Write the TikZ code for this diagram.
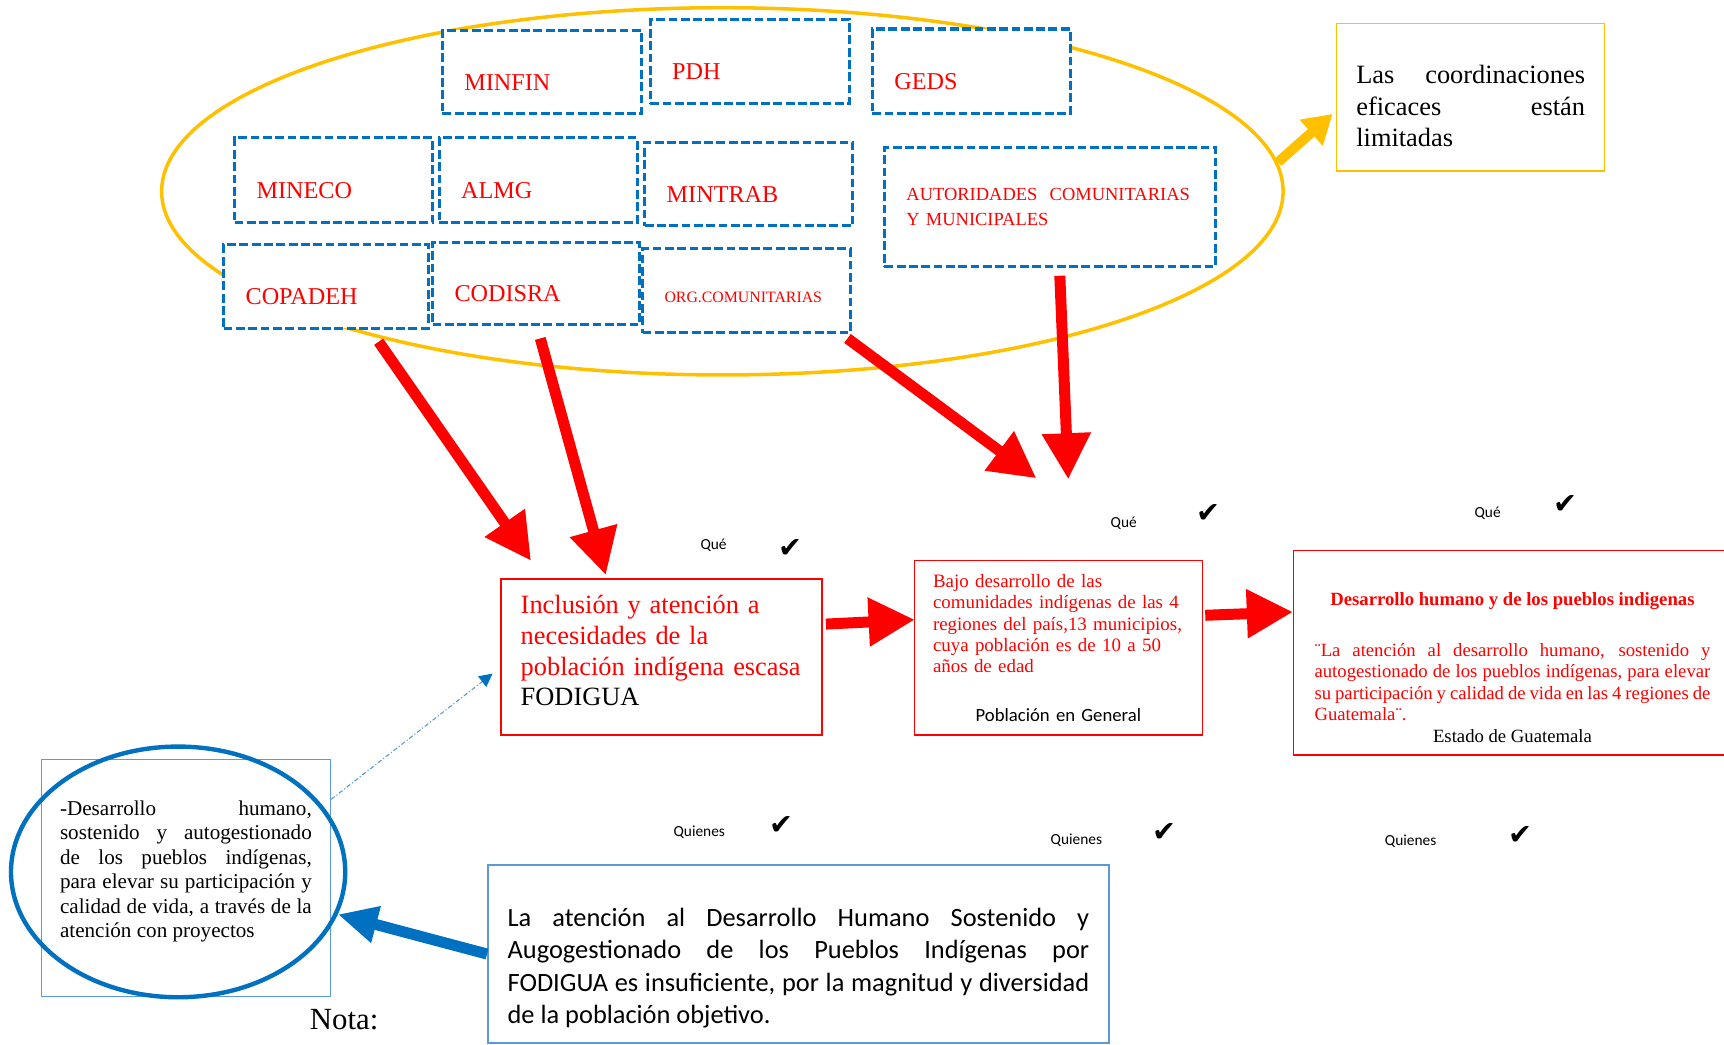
\documentclass[tikz,border=0pt]{standalone}
\usepackage{fontspec}
\setmainfont{Liberation Serif}
\newfontfamily\calibri{Carlito}
\newfontfamily\tickfont{DejaVu Sans}
\usepackage{tikz}
\usetikzlibrary{arrows.meta,shapes.geometric}
\definecolor{orgblue}{HTML}{0070C0}
\definecolor{lineblue}{HTML}{5B9BD5}
\definecolor{gold}{HTML}{FFC000}
\hyphenpenalty=10000 \exhyphenpenalty=10000 \tolerance=10000 \hbadness=10000

\begin{document}
\begin{tikzpicture}[x=0.5pt, y=-0.5pt]
    % Define styles
    \tikzstyle{orgbox} = [rectangle, draw=orgblue, fill=white, line width=1.4pt, dash pattern=on 4pt off 1.6pt, anchor=north west, inner xsep=10pt, inner ysep=0pt, align=left, text=red, font=\fontsize{11}{13}\selectfont]
    \tikzstyle{orglow} = [orgbox, text height=16.5pt, text depth=0pt]
    \tikzstyle{redbox} = [rectangle, draw=red, line width=0.6pt, anchor=north west, inner xsep=9pt, inner ysep=2pt, text=red]
    \tikzstyle{bluebox} = [rectangle, draw=lineblue, line width=0.7pt, anchor=north west, inner ysep=2pt, align=justify]
    \tikzstyle{tag} = [font=\calibri\fontsize{7}{8}\selectfont]
    \tikzstyle{checkmk} = [font=\tickfont\fontsize{13}{14}\selectfont]
    \tikzstyle{redarrow} = [draw=red, line width=5pt, -{Triangle[length=21pt,width=21pt]}]
    \tikzstyle{goldarrow} = [draw=gold, line width=4.5pt, -{Triangle[length=13pt,width=15pt]}]
    \tikzstyle{bluearrow} = [draw=orgblue, line width=5pt, -{Triangle[length=18pt,width=16pt]}]
    \tikzstyle{linkarrow} = [draw=lineblue, line width=0.5pt, dash pattern=on 2pt off 1pt on 0.5pt off 1pt, -{Triangle[length=6pt,width=6pt,color=orgblue]}]

    \useasboundingbox (0,0) rectangle (1568,950);

    % Institutions
    \node (grupo) [ellipse, draw=gold, line width=1.6pt, minimum width=510pt, minimum height=167pt, inner sep=0pt] at (657,174) {};
    \node (minfin) [orglow, text width=70.5pt, minimum height=38pt] at (401,26) {MINFIN};
    \node (pdh) [orglow, text width=70.5pt, minimum height=38.5pt] at (590,16) {PDH};
    \node (geds) [orglow, text width=70pt, minimum height=38.5pt] at (792,25) {GEDS};
    \node (mineco) [orglow, text width=70pt, minimum height=38.5pt] at (212,124) {MINECO};
    \node (almg) [orglow, text width=70pt, minimum height=38.5pt] at (398,124) {ALMG};
    \node (mintrab) [orglow, text width=74.5pt, minimum height=38pt] at (585,128) {MINTRAB};
    \node (autoridades) [orgbox, text width=130.5pt, minimum height=54pt, font=\fontsize{8.4}{11.5}\selectfont] at (803,133) {AUTORIDADES\ \ COMUNITARIAS\\ Y MUNICIPALES};
    \node (copadeh) [orglow, text width=73pt, minimum height=38pt] at (202,221) {COPADEH};
    \node (codisra) [orglow, text width=74pt, minimum height=37.5pt] at (392,219) {CODISRA};
    \node (orgcom) [orgbox, text width=74.5pt, minimum height=38pt, font=\fontsize{7.2}{8.5}\selectfont, text height=10.8pt, text depth=0pt] at (583,225) {ORG.COMUNITARIAS};

    \node (coord) [rectangle, draw=gold, line width=0.6pt, anchor=north west, minimum width=122pt, minimum height=67pt, text width=104pt, inner xsep=9pt, inner ysep=2pt, align=justify, font=\fontsize{12}{14.25}\selectfont] at (1215,21) {\rule{0pt}{16.1pt}Las coordinaciones\linebreak eficaces están\linebreak limitadas};

    % Problem tree
    \node (inclusion) [redbox, minimum width=146pt, minimum height=71pt, text width=128pt, align=left, font=\fontsize{12}{14}\selectfont] at (455,526) {Inclusión y atención a\\ necesidades de la\\ población indígena escasa\\ \textcolor{black}{FODIGUA}\rule[-6pt]{0pt}{6pt}};
    \node (bajo) [redbox, minimum width=131pt, minimum height=79.5pt, text width=114pt, inner xsep=8.5pt, align=left, font=\fontsize{8.6}{9.75}\selectfont] at (831,509) {Bajo desarrollo de las\\ comunidades indígenas de las 4\\ regiones del país,13 municipios,\\ cuya población es de 10 a 50\\ años de edad\par\vspace{12.25pt}{\centering\calibri\fontsize{8.5}{9.75}\selectfont\color{black}Población en General\par}};
    \node (desarrollo) [redbox, minimum width=199pt, minimum height=93pt, text width=180pt, inner xsep=9.5pt, align=justify, font=\fontsize{8.5}{9.75}\selectfont] at (1176,500) {{\centering\bfseries\rule{0pt}{19.6pt}Desarrollo humano y de los pueblos indigenas\par}\vspace{13.25pt}¨La atención al desarrollo humano, sostenido y\linebreak autogestionado de los pueblos indígenas, para elevar\linebreak su participación y calidad de vida en las 4 regiones de\linebreak Guatemala¨.\par{\centering\color{black}Estado de Guatemala\par}};

    \node (atencion) [bluebox, minimum width=282.5pt, minimum height=81pt, text width=264.5pt, inner xsep=9pt, font=\calibri\fontsize{12}{14.75}\selectfont] at (443,786) {\rule{0pt}{21pt}La atención al Desarrollo Humano Sostenido y\linebreak Augogestionado de los Pueblos Indígenas por\linebreak FODIGUA es insuficiente, por la magnitud y diversidad\linebreak de la población objetivo.};
    \node (proyectos) [bluebox, line width=0.6pt, minimum width=131.5pt, minimum height=108pt, text width=114.5pt, inner xsep=8.5pt, font=\fontsize{9.6}{11.1}\selectfont] at (37,690) {-Desarrollo humano,\linebreak sostenido y autogestionado\linebreak de los pueblos indígenas,\linebreak para elevar su participación y\linebreak calidad de vida, a través de la\linebreak atención con proyectos\rule[-8pt]{0pt}{8pt}};
    \node (circulo) [ellipse, draw=orgblue, line width=2pt, minimum width=152pt, minimum height=114pt, inner sep=0pt] at (162,793) {};
    \node (nota) [font=\fontsize{14}{16}\selectfont] at (313,927) {Nota:};

    % Labels
    \node (que1) [tag] at (649,496) {Qué};
    \node (tick1) [checkmk] at (719,499) {✔};
    \node (que2) [tag] at (1022,476) {Qué};
    \node (tick2) [checkmk] at (1099,467) {✔};
    \node (que3) [tag] at (1353,467) {Qué};
    \node (tick3) [checkmk] at (1424,459) {✔};
    \node (quien1) [tag] at (636,757) {Quienes};
    \node (tick4) [checkmk] at (711,751) {✔};
    \node (quien2) [tag] at (979,764) {Quienes};
    \node (tick5) [checkmk] at (1059,757) {✔};
    \node (quien3) [tag] at (1283,765) {Quienes};
    \node (tick6) [checkmk] at (1383,760) {✔};

    % Arrows
    \draw [goldarrow] (grupo.3) -- ([xshift=-1.5pt,yshift=-7.5pt]coord.west);
    \draw [redarrow] ([xshift=24pt,yshift=-5.5pt]copadeh.south) -- ([xshift=14pt,yshift=8pt]inclusion.north west);
    \draw [redarrow] ([xshift=2pt,yshift=-5.5pt]codisra.south) -- ([xshift=48pt,yshift=1.5pt]inclusion.north west);
    \draw [redarrow] ([xshift=-2pt,yshift=-2pt]orgcom.south east) -- ([xshift=-10pt,yshift=37pt]bajo.north);
    \draw [redarrow] ([xshift=4.5pt,yshift=-3.5pt]autoridades.south) -- ([xshift=4.5pt,yshift=36.5pt]bajo.north);
    \draw [redarrow] ([xshift=1.5pt,yshift=15pt]inclusion.east) -- ([xshift=0.5pt,yshift=12.75pt]bajo.west);
    \draw [redarrow] ([xshift=1pt,yshift=14.75pt]bajo.east) -- ([yshift=18.5pt]desarrollo.west);
    \draw [bluearrow] (atencion.west) -- (circulo);
    \draw [linkarrow] ([yshift=-18.5pt]proyectos.north east) -- ([xshift=-3.5pt,yshift=-7.5pt]inclusion.west);
\end{tikzpicture}
\end{document}
